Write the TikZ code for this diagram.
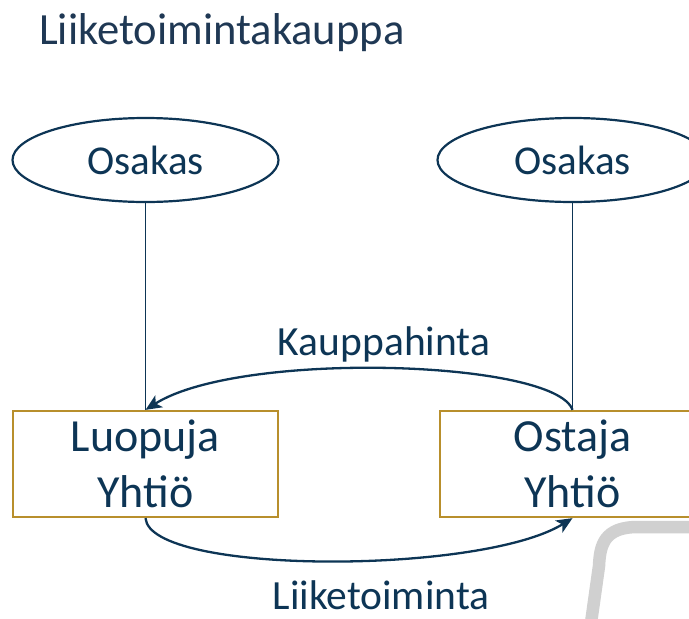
\documentclass[tikz,border=0pt]{standalone}
\usepackage{fontspec}
\setmainfont{Carlito}
\usetikzlibrary{shapes.geometric,arrows.meta}
\definecolor{navy}{RGB}{13,53,85}
\definecolor{titlec}{RGB}{31,56,84}
\definecolor{gold}{RGB}{184,143,44}
\definecolor{band}{RGB}{208,208,208}
\tikzset{
  osak/.style={ellipse, draw=navy, line width=2.2pt, text=navy, inner sep=0pt,
    font=\fontsize{41}{49}\selectfont},
  yht/.style={rectangle, draw=gold, line width=2.3pt, inner sep=0pt,
    minimum width=265pt, minimum height=106pt},
  ytext/.style={text=navy, inner sep=0pt, anchor=base, font=\fontsize{46}{56}\selectfont},
  lbl/.style={text=navy, inner sep=0pt, anchor=base, font=\fontsize{41.5}{50}\selectfont},
  vline/.style={draw=navy, line width=1.1pt},
  flow/.style={draw=navy, line width=2.3pt, -{Stealth[length=16pt,width=14pt,inset=4pt]}}
}
\begin{document}
\begin{tikzpicture}[x=1pt,y=-1pt]
\useasboundingbox (0,0) rectangle (689,619);
\clip (0,0) rectangle (689,619);
% decorative grey band
\draw[band, line width=12.5pt] (700,527) -- (638,527) .. controls (604,527) and (600,545) .. (599,566) -- (590,630);
% title
\node[text=titlec, inner sep=0pt, anchor=base west, font=\fontsize{44.6}{54}\selectfont] (title) at (39,44) {Liiketoimintakauppa};
% shareholders
\node[osak, minimum width=266pt, minimum height=84pt] (os1) at (145.5,160) {Osakas};
\node[osak, minimum width=270pt, minimum height=84pt] (os2) at (572.5,160) {Osakas};
% companies
\node[yht] (luo) at (145.5,464) {};
\node[yht] (ost) at (572.5,464) {};
\node[ytext] (luo1) at (145.5,451) {Luopuja};
\node[ytext] (luo2) at (145.5,507) {Yhtiö};
\node[ytext] (ost1) at (572.5,451) {Ostaja};
\node[ytext] (ost2) at (572.5,507) {Yhtiö};
% ownership lines
\draw[vline] (os1.south) -- (luo.north);
\draw[vline] (os2.south) -- (ost.north);
% flows
\draw[flow] (ost.north) .. controls (555,360) and (240,350) .. (luo.north);
\draw[flow] (luo.south) .. controls (150,575) and (480,575) .. (ost.south);
% labels
\node[lbl] (kh) at (384,355) {Kauppahinta};
\node[lbl] (lt) at (381,609) {Liiketoiminta};
\end{tikzpicture}
\end{document}
